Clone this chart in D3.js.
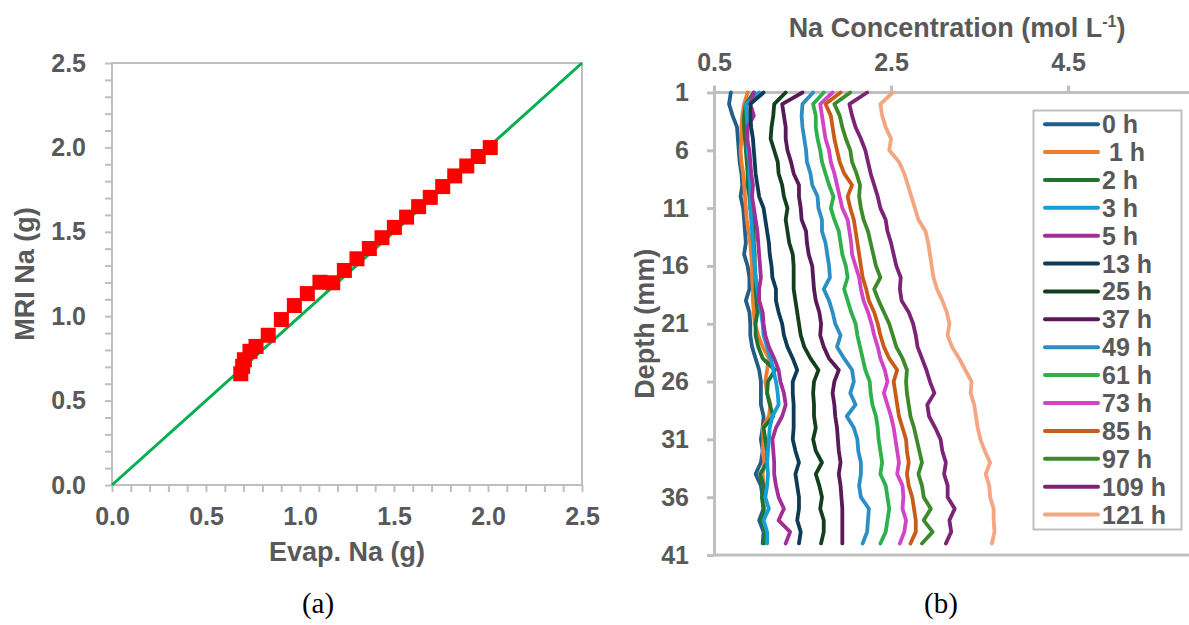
<!DOCTYPE html>
<html><head><meta charset="utf-8">
<script src="https://cdn.jsdelivr.net/npm/d3@7"></script>
<style>
html,body{margin:0;padding:0;background:#fff;}
svg{display:block;}
text{font-family:"Liberation Sans",Arial,sans-serif;}
text.cap{font-family:"Liberation Serif","Times New Roman",serif;}
</style></head><body>
<svg id="c" width="1189" height="625"></svg>
<script>
// ---------- Panel (a) data ----------
const evapNa = [0.685,0.695,0.704,0.734,0.766,0.831,0.901,0.970,1.039,1.106,1.174,1.236,1.303,1.369,1.436,1.502,1.567,1.631,1.693,1.759,1.823,1.887,1.948,2.012];
const mriNa  = [0.659,0.703,0.742,0.792,0.821,0.887,0.980,1.063,1.134,1.201,1.198,1.271,1.340,1.401,1.465,1.526,1.587,1.649,1.704,1.768,1.831,1.890,1.946,1.999];
const lineAB = [0, 2.5];
const ticksA = [0, 0.5, 1.0, 1.5, 2.0, 2.5];

// ---------- Panel (b) data ----------
const depth = [1,2,3,4,5,6,7,8,9,10,11,12,13,14,15,16,17,18,19,20,21,22,23,24,25,26,27,28,29,30,31,32,33,34,35,36,37,38,39,40];
const seriesNames = ["0 h"," 1 h","2 h","3 h","5 h","13 h","25 h","37 h","49 h","61 h","73 h","85 h","97 h","109 h","121 h"];
const seriesColors = ["#215e8a","#ed7d31","#217330","#12a0d7","#a12f97","#0e3b58","#143f1d","#5a1a5a","#2b8fc6","#2fb04a","#d343c8","#cc5a17","#3d8a2a","#7b2477","#f4a582"];
const h0   = [0.69,0.67,0.71,0.76,0.77,0.78,0.79,0.81,0.82,0.80,0.83,0.84,0.85,0.86,0.84,0.88,0.90,0.90,0.86,0.90,0.91,0.91,0.93,0.97,1.01,1.03,1.03,1.03,1.06,1.05,1.03,1.05,1.03,0.97,1.03,1.05,1.06,1.01,1.06,1.05];
const h1   = [0.88,0.84,0.82,0.81,0.81,0.80,0.81,0.83,0.84,0.85,0.86,0.87,0.89,0.91,0.92,0.93,0.93,0.94,0.94,0.95,0.96,1.00,1.05,1.12,1.10,1.08,1.10,1.14,1.12,1.05,1.06,1.05,1.07,1.05,1.06,1.05,1.07,1.05,1.08,1.07];
const h2   = [0.95,0.86,0.84,0.84,0.85,0.86,0.87,0.88,0.88,0.90,0.91,0.94,0.95,0.95,0.96,0.96,0.97,0.97,0.98,0.99,0.97,0.97,1.00,1.05,1.19,1.11,1.10,1.13,1.17,1.06,1.08,1.10,1.10,1.02,1.06,1.04,1.06,1.04,1.08,1.06];
const h3   = [1.01,0.86,0.87,0.88,0.88,0.88,0.90,0.90,0.91,0.91,0.91,0.92,0.93,0.94,0.95,0.96,0.97,0.99,1.01,1.03,1.05,1.06,1.10,1.14,1.17,1.20,1.22,1.23,1.16,1.13,1.12,1.11,1.10,1.11,1.10,1.08,1.12,1.06,1.10,1.10];
const h5   = [0.95,0.91,0.95,0.88,0.87,0.90,0.91,0.92,0.94,0.93,0.95,0.97,0.99,1.00,1.01,1.02,1.03,1.01,1.01,1.05,1.06,1.08,1.12,1.18,1.23,1.25,1.29,1.31,1.27,1.20,1.16,1.17,1.18,1.18,1.20,1.23,1.29,1.23,1.36,1.31];
const h13  = [1.06,0.91,0.91,0.92,0.94,0.95,0.96,0.97,0.99,1.01,1.06,1.08,1.10,1.12,1.13,1.15,1.16,1.20,1.20,1.23,1.27,1.29,1.33,1.39,1.44,1.39,1.39,1.40,1.40,1.40,1.39,1.42,1.46,1.42,1.44,1.46,1.46,1.44,1.48,1.46];
const h25  = [1.31,1.18,1.17,1.15,1.14,1.18,1.22,1.23,1.27,1.29,1.33,1.31,1.33,1.35,1.39,1.40,1.40,1.40,1.42,1.44,1.46,1.48,1.52,1.59,1.68,1.63,1.62,1.63,1.63,1.65,1.62,1.65,1.72,1.65,1.69,1.72,1.70,1.74,1.74,1.71];
const h37  = [1.50,1.27,1.29,1.31,1.31,1.33,1.37,1.40,1.46,1.46,1.48,1.49,1.54,1.55,1.57,1.61,1.62,1.63,1.65,1.69,1.71,1.70,1.74,1.80,1.91,1.86,1.84,1.86,1.87,1.89,1.90,1.91,1.93,1.91,1.93,1.94,1.95,1.95,1.95,1.95];
const h49  = [1.62,1.50,1.49,1.50,1.52,1.54,1.55,1.59,1.61,1.67,1.68,1.72,1.72,1.76,1.78,1.80,1.81,1.74,1.80,1.84,1.87,1.93,1.89,1.97,2.06,2.08,2.04,2.10,2.00,2.08,2.12,2.13,2.16,2.16,2.14,2.16,2.25,2.24,2.23,2.18];
const h61  = [1.74,1.62,1.65,1.65,1.67,1.70,1.72,1.76,1.80,1.85,1.82,1.86,1.91,1.93,1.95,1.99,2.01,1.97,2.01,2.05,2.10,2.12,2.15,2.18,2.21,2.26,2.27,2.29,2.33,2.35,2.36,2.38,2.40,2.38,2.44,2.46,2.48,2.46,2.44,2.38];
const h73  = [1.84,1.70,1.72,1.74,1.76,1.80,1.82,1.86,1.89,1.92,1.95,2.01,2.03,2.05,2.06,2.10,2.14,2.16,2.19,2.24,2.28,2.31,2.35,2.38,2.43,2.46,2.42,2.46,2.50,2.53,2.55,2.57,2.59,2.57,2.63,2.64,2.63,2.67,2.65,2.60];
const h85  = [1.93,1.76,1.82,1.84,1.86,1.89,1.92,1.97,2.06,2.01,2.04,2.08,2.10,2.12,2.14,2.16,2.18,2.22,2.25,2.31,2.35,2.38,2.42,2.48,2.57,2.53,2.55,2.57,2.59,2.63,2.67,2.68,2.70,2.68,2.70,2.74,2.76,2.78,2.78,2.72];
const h97  = [2.04,1.86,1.92,1.95,1.99,2.04,2.06,2.11,2.15,2.14,2.16,2.19,2.24,2.27,2.30,2.33,2.38,2.31,2.36,2.42,2.48,2.52,2.56,2.63,2.68,2.67,2.68,2.70,2.72,2.76,2.79,2.82,2.85,2.81,2.85,2.87,2.95,2.87,2.97,2.85];
const h109 = [2.23,2.03,2.06,2.10,2.16,2.21,2.24,2.27,2.31,2.35,2.38,2.44,2.46,2.50,2.53,2.56,2.61,2.60,2.62,2.70,2.75,2.78,2.80,2.85,2.90,2.94,2.99,2.91,2.93,3.00,3.06,3.08,3.12,3.10,3.14,3.14,3.22,3.16,3.18,3.12];
const h121 = [2.52,2.38,2.40,2.44,2.50,2.48,2.59,2.65,2.69,2.73,2.77,2.81,2.89,2.92,2.94,2.96,2.98,3.02,3.08,3.13,3.16,3.14,3.19,3.27,3.34,3.41,3.40,3.44,3.46,3.48,3.51,3.56,3.62,3.57,3.61,3.62,3.66,3.66,3.67,3.64];
const seriesValues = [h0,h1,h2,h3,h5,h13,h25,h37,h49,h61,h73,h85,h97,h109,h121];
const concTicks = [0.5, 2.5, 4.5];
const depthTicks = [1, 6, 11, 16, 21, 26, 31, 36, 41];

// ---------- Drawing ----------
const svg = d3.select('#c');
const W = 1189;
const axisGray = '#bfbfbf';
const textGray = '#595959';

// ===== Panel (a) =====
const xA = d3.scaleLinear().domain([0, 2.5]).range([112, 582]);
const yA = d3.scaleLinear().domain([0, 2.5]).range([485, 63]);
const gA = svg.append('g');

const minorA = d3.range(0, 25.5, 1).map(v => v / 10);
const isMajor = v => ticksA.some(t => Math.abs(t - v) < 1e-6);
const fmtA = v => isMajor(v) ? d3.format('.1f')(v) : '';

const axA_x = gA.append('g').attr('transform', `translate(0,${yA(0)})`)
  .call(d3.axisBottom(xA).tickValues(minorA).tickSize(7).tickPadding(15).tickSizeOuter(0).tickFormat(fmtA));
const axA_y = gA.append('g').attr('transform', `translate(${xA(0)},0)`)
  .call(d3.axisLeft(yA).tickValues(minorA).tickSize(7).tickPadding(19).tickSizeOuter(0).tickFormat(fmtA));
[axA_x, axA_y].forEach(a => {
  a.select('.domain').remove();
  a.selectAll('.tick line').attr('stroke', axisGray).attr('stroke-width', 2);
  a.selectAll('text').attr('fill', textGray).attr('font-size', 25).attr('font-weight', 'bold');
});
// frame
gA.append('rect')
  .attr('x', xA(0)).attr('y', yA(2.5))
  .attr('width', xA(2.5) - xA(0)).attr('height', yA(0) - yA(2.5))
  .attr('fill', 'none').attr('stroke', axisGray).attr('stroke-width', 2);

// 1:1 line
gA.append('line')
  .attr('x1', xA(lineAB[0])).attr('y1', yA(lineAB[0]))
  .attr('x2', xA(lineAB[1])).attr('y2', yA(lineAB[1]))
  .attr('stroke', '#00b050').attr('stroke-width', 3);

// squares
const sq = 15;
gA.selectAll('rect.pt').data(evapNa.map((e, i) => [e, mriNa[i]])).enter()
  .append('rect').attr('class', 'pt')
  .attr('x', d => xA(d[0]) - sq / 2).attr('y', d => yA(d[1]) - sq / 2)
  .attr('width', sq).attr('height', sq).attr('fill', '#ff0000');

// axis titles
gA.append('text').attr('x', (xA(0) + xA(2.5)) / 2).attr('y', 561)
  .attr('text-anchor', 'middle').attr('font-size', 27).attr('font-weight', 'bold')
  .attr('fill', textGray).text('Evap. Na (g)');
gA.append('text').attr('transform', `translate(34,${(yA(0) + yA(2.5)) / 2}) rotate(-90)`)
  .attr('text-anchor', 'middle').attr('font-size', 27).attr('font-weight', 'bold')
  .attr('fill', textGray).text('MRI Na (g)');

// ===== Panel (b) =====
const xB = d3.scaleLinear().domain([0.5, 6.5]).range([714, 1245]);
const yB = d3.scaleLinear().domain([1, 41]).range([92.5, 555]);
const gB = svg.append('g');

const axB_x = gB.append('g').attr('transform', `translate(0,${yB(1)})`)
  .call(d3.axisTop(xB).tickValues(concTicks).tickSize(7).tickPadding(15).tickSizeOuter(0).tickFormat(d3.format('.1f')));
axB_x.select('.domain').remove();
const axB_y = gB.append('g').attr('transform', `translate(${xB(0.5)},0)`)
  .call(d3.axisLeft(yB).tickValues(depthTicks).tickSize(7).tickPadding(18).tickSizeOuter(0));
axB_y.select('.domain').attr('stroke', axisGray).attr('stroke-width', 3);
[axB_x, axB_y].forEach(a => {
  a.selectAll('.tick line').attr('stroke', axisGray).attr('stroke-width', 3);
  a.selectAll('text').attr('fill', textGray).attr('font-size', 25).attr('font-weight', 'bold');
});
// top and bottom frame lines
gB.append('line').attr('x1', xB(0.5)).attr('x2', W).attr('y1', yB(1)).attr('y2', yB(1))
  .attr('stroke', axisGray).attr('stroke-width', 3);
gB.append('line').attr('x1', xB(0.5)).attr('x2', W).attr('y1', yB(41)).attr('y2', yB(41))
  .attr('stroke', axisGray).attr('stroke-width', 3);

// profiles
const line = d3.line().x(d => xB(d[0])).y(d => yB(d[1]));
seriesValues.forEach((vals, i) => {
  gB.append('path')
    .datum(vals.map((v, j) => [v, depth[j]]))
    .attr('d', line).attr('fill', 'none')
    .attr('stroke', seriesColors[i]).attr('stroke-width', 3.8)
    .attr('stroke-linejoin', 'round').attr('stroke-linecap', 'round');
});

// legend
const lg = gB.append('g');
lg.append('rect').attr('x', 1033.5).attr('y', 110.5).attr('width', 148).attr('height', 419)
  .attr('fill', '#fff').attr('stroke', axisGray).attr('stroke-width', 2);
seriesNames.forEach((name, i) => {
  const y = 124.2 + i * 27.88;
  lg.append('line').attr('x1', 1045).attr('x2', 1098).attr('y1', y).attr('y2', y)
    .attr('stroke', seriesColors[i]).attr('stroke-width', 4).attr('stroke-linecap', 'round');
  lg.append('text').attr('x', 1102).attr('y', y).attr('dy', '0.36em')
    .attr('font-size', 25).attr('font-weight', 'bold').attr('fill', textGray)
    .style('white-space', 'pre').text(name);
});

// titles
const tt = gB.append('text').attr('x', 957).attr('y', 37).attr('text-anchor', 'middle')
  .attr('font-size', 27).attr('font-weight', 'bold').attr('fill', textGray);
tt.append('tspan').text('Na Concentration (mol L');
tt.append('tspan').attr('font-size', 16).attr('dy', -10).text('-1');
tt.append('tspan').attr('dy', 10).text(')');
gB.append('text').attr('transform', `translate(654,${(yB(1) + yB(41)) / 2}) rotate(-90)`)
  .attr('text-anchor', 'middle').attr('font-size', 27).attr('font-weight', 'bold')
  .attr('fill', textGray).text('Depth (mm)');

// captions
svg.append('text').attr('class', 'cap').attr('x', 318).attr('y', 613).attr('text-anchor', 'middle')
  .attr('font-size', 29).attr('fill', '#000').text('(a)');
svg.append('text').attr('class', 'cap').attr('x', 941).attr('y', 613).attr('text-anchor', 'middle')
  .attr('font-size', 29).attr('fill', '#000').text('(b)');
</script></body></html>
